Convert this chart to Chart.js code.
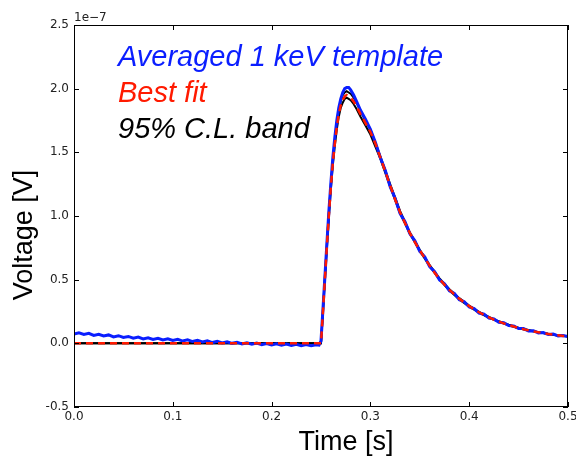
<!DOCTYPE html>
<html>
<head>
<meta charset="utf-8">
<script src="https://cdn.jsdelivr.net/npm/chart.js@4/dist/chart.umd.min.js"></script>
<style>
  html, body { margin: 0; padding: 0; background: #fff; }
  #holder { width: 576px; height: 463px; position: relative; }
</style>
</head>
<body>
<div id="holder"><canvas id="ctx"></canvas></div>
<script>
// values in units of 1e-7 V
const times = [
  0.000, 0.005, 0.010, 0.015, 0.020, 0.025, 0.030, 0.035, 0.040, 0.045,
  0.050, 0.055, 0.060, 0.065, 0.070, 0.075, 0.080, 0.085, 0.090, 0.095,
  0.100, 0.105, 0.110, 0.115, 0.120, 0.125, 0.130, 0.135, 0.140, 0.145,
  0.150, 0.155, 0.160, 0.165, 0.170, 0.175, 0.180, 0.185, 0.190, 0.195,
  0.200, 0.205, 0.210, 0.215, 0.220, 0.225, 0.230, 0.235, 0.240, 0.245,
  0.248,
  0.250, 0.252, 0.254, 0.256, 0.258, 0.260, 0.262, 0.264, 0.266, 0.268,
  0.270, 0.272, 0.274, 0.276, 0.278, 0.280,
  0.283, 0.286, 0.290, 0.295, 0.300,
  0.305, 0.310, 0.315, 0.320, 0.325, 0.330, 0.335, 0.340, 0.345, 0.350,
  0.355, 0.360, 0.365, 0.370, 0.375, 0.380, 0.385, 0.390, 0.395, 0.400,
  0.405, 0.410, 0.415, 0.420, 0.425, 0.430, 0.435, 0.440, 0.445, 0.450,
  0.455, 0.460, 0.465, 0.470, 0.475, 0.480, 0.485, 0.490, 0.495, 0.500
];

const template = [
  0.072, 0.082, 0.070, 0.079, 0.062, 0.071, 0.058, 0.066, 0.050, 0.060,
  0.046, 0.054, 0.040, 0.049, 0.035, 0.044, 0.031, 0.040, 0.026, 0.035,
  0.022, 0.032, 0.018, 0.027, 0.014, 0.024, 0.011, 0.020, 0.006, 0.016,
  0.003, 0.012, 0.000, 0.009, -0.004, 0.005, -0.007, 0.002, -0.010, -0.001,
  -0.012, -0.003, -0.015, -0.006, -0.017, -0.008, -0.018, -0.010, -0.019, -0.011,
  -0.014,
  0.02, 0.27, 0.53, 0.79, 1.04, 1.26, 1.46, 1.62, 1.75, 1.85,
  1.92, 1.97, 2.00, 2.01, 2.01, 1.99,
  1.95, 1.90, 1.83, 1.76, 1.68,
  1.58, 1.46, 1.36, 1.23, 1.14, 1.02, 0.955, 0.86, 0.805, 0.722,
  0.68, 0.602, 0.562, 0.497, 0.468, 0.412, 0.392, 0.343, 0.327, 0.286,
  0.273, 0.238, 0.229, 0.198, 0.192, 0.166, 0.162, 0.139, 0.137, 0.116,
  0.116, 0.097, 0.099, 0.082, 0.085, 0.069, 0.073, 0.058, 0.062, 0.053
];

const bestFit = [
  0, 0, 0, 0, 0, 0, 0, 0, 0, 0,
  0, 0, 0, 0, 0, 0, 0, 0, 0, 0,
  0, 0, 0, 0, 0, 0, 0, 0, 0, 0,
  0, 0, 0, 0, 0, 0, 0, 0, 0, 0,
  0, 0, 0, 0, 0, 0, 0, 0, 0, 0,
  0,
  0, 0.25, 0.51, 0.77, 1.01, 1.23, 1.42, 1.57, 1.70, 1.80,
  1.87, 1.91, 1.94, 1.95, 1.94, 1.93,
  1.90, 1.86, 1.80, 1.73, 1.66,
  1.57, 1.46, 1.35, 1.24, 1.13, 1.03, 0.945, 0.865, 0.795, 0.73,
  0.67, 0.61, 0.555, 0.505, 0.46, 0.42, 0.385, 0.35, 0.32, 0.292,
  0.267, 0.244, 0.223, 0.204, 0.187, 0.171, 0.157, 0.144, 0.132, 0.121,
  0.111, 0.102, 0.094, 0.087, 0.080, 0.074, 0.068, 0.063, 0.058, 0.054
];

const bandTimes = [
  0, 0.250, 0.252, 0.254, 0.256, 0.258, 0.260, 0.262, 0.264, 0.266,
  0.268, 0.270, 0.272, 0.274, 0.276, 0.278, 0.280, 0.283, 0.286, 0.290,
  0.295, 0.300, 0.31, 0.32, 0.33, 0.34, 0.35, 0.36, 0.37, 0.38,
  0.39, 0.40, 0.41, 0.42, 0.43, 0.44, 0.45, 0.46, 0.47, 0.48,
  0.49, 0.50
];
const bandHi = [
  0, 0, 0.27, 0.53, 0.79, 1.03, 1.25, 1.44, 1.60, 1.73,
  1.83, 1.90, 1.95, 1.97, 1.98, 1.97, 1.96, 1.93, 1.89, 1.82,
  1.75, 1.68, 1.47, 1.25, 1.04, 0.87, 0.735, 0.615, 0.51, 0.425,
  0.355, 0.296, 0.247, 0.207, 0.173, 0.146, 0.123, 0.104, 0.088, 0.075,
  0.064, 0.055
];
const bandLo = [
  0, 0, 0.24, 0.50, 0.75, 0.99, 1.21, 1.40, 1.55, 1.68,
  1.78, 1.85, 1.89, 1.92, 1.93, 1.92, 1.91, 1.88, 1.84, 1.78,
  1.71, 1.64, 1.45, 1.23, 1.02, 0.86, 0.725, 0.605, 0.50, 0.415,
  0.345, 0.288, 0.241, 0.201, 0.169, 0.142, 0.119, 0.1, 0.086, 0.073,
  0.062, 0.053
];

const xTicks = [0.0, 0.1, 0.2, 0.3, 0.4, 0.5];
const yTicks = [-0.5, 0.0, 0.5, 1.0, 1.5, 2.0, 2.5];

const labels = ['Averaged 1 keV template', 'Best fit', '95% C.L. band'];
const labelColors = ['#0a1eff', '#ff1a00', '#000000'];

function pts(xs, ys) {
  return xs.map((x, i) => ({ x: x, y: ys[i] }));
}

const frame = {
  id: 'frame',
  afterDraw(chart) {
    const c = chart.ctx;
    const a = chart.chartArea;
    const xs = chart.scales.x;
    const ys = chart.scales.y;
    c.save();
    c.strokeStyle = '#000';
    c.lineWidth = 1;
    c.strokeRect(Math.round(a.left) + 0.5, Math.round(a.top) + 0.5,
      Math.round(a.right - a.left) - 1, Math.round(a.bottom - a.top) - 1);
    c.beginPath();
    xTicks.forEach(v => {
      const p = Math.round(xs.getPixelForValue(v)) + 0.5;
      c.moveTo(p, a.bottom); c.lineTo(p, a.bottom - 5);
      c.moveTo(p, a.top); c.lineTo(p, a.top + 5);
    });
    yTicks.forEach(v => {
      const p = Math.round(ys.getPixelForValue(v)) + 0.5;
      c.moveTo(a.left, p); c.lineTo(a.left + 5, p);
      c.moveTo(a.right, p); c.lineTo(a.right - 5, p);
    });
    c.stroke();

    // x tick labels
    c.fillStyle = '#222';
    c.font = '12px "DejaVu Sans"';
    c.textAlign = 'center';
    c.textBaseline = 'top';
    xTicks.forEach(v => {
      c.fillText(v.toFixed(1), xs.getPixelForValue(v), a.bottom + 4);
    });

    c.textAlign = 'left';
    c.textBaseline = 'alphabetic';
    c.fillText('1e\u22127', a.left, a.top - 4);

    c.font = 'italic 29px "Liberation Sans"';
    labels.forEach((t, i) => {
      c.fillStyle = labelColors[i];
      c.fillText(t, a.left + 44, a.top + 41 + i * 36);
    });

    c.fillStyle = '#000';
    c.font = '27px "Liberation Sans"';
    c.textAlign = 'center';
    c.fillText('Time [s]', 346, 450);
    c.save();
    c.translate(32, 235);
    c.rotate(-Math.PI / 2);
    c.fillText('Voltage [V]', 0, 0);
    c.restore();
    c.restore();
  }
};

const chart = new Chart(document.getElementById('ctx'), {
  type: 'line',
  data: {
    datasets: [
      {
        label: labels[2] + ' hi',
        data: pts(bandTimes, bandHi),
        borderColor: '#000',
        borderWidth: 2,
        order: 3
      },
      {
        label: labels[2] + ' lo',
        data: pts(bandTimes, bandLo),
        borderColor: '#000',
        borderWidth: 2,
        order: 3
      },
      {
        label: labels[0],
        data: pts(times, template),
        borderColor: '#0a1eff',
        borderWidth: 3,
        order: 2
      },
      {
        label: labels[1],
        data: pts(times, bestFit),
        borderColor: '#ff1a00',
        borderWidth: 2.5,
        borderDash: [7, 5],
        order: 1
      }
    ]
  },
  options: {
    responsive: true,
    maintainAspectRatio: false,
    animation: false,
    elements: { point: { radius: 0 }, line: { tension: 0, fill: false } },
    layout: { padding: { left: 0, right: 8, top: 25, bottom: 0 } },
    plugins: { legend: { display: false }, tooltip: { enabled: false } },
    scales: {
      x: {
        type: 'linear',
        min: 0,
        max: 0.5,
        afterFit(s) { s.height = 56; },
        grid: { display: false, drawTicks: false },
        border: { display: false },
        ticks: { display: false }
      },
      y: {
        type: 'linear',
        min: -0.5,
        max: 2.5,
        afterFit(s) { s.width = 74; },
        afterBuildTicks(s) { s.ticks = yTicks.map(v => ({ value: v })); },
        grid: { display: false, drawTicks: false },
        border: { display: false },
        ticks: {
          padding: 5,
          color: '#222',
          font: { family: 'DejaVu Sans', size: 12 },
          callback: v => v.toFixed(1)
        }
      }
    }
  },
  plugins: [frame]
});
</script>
</body>
</html>
